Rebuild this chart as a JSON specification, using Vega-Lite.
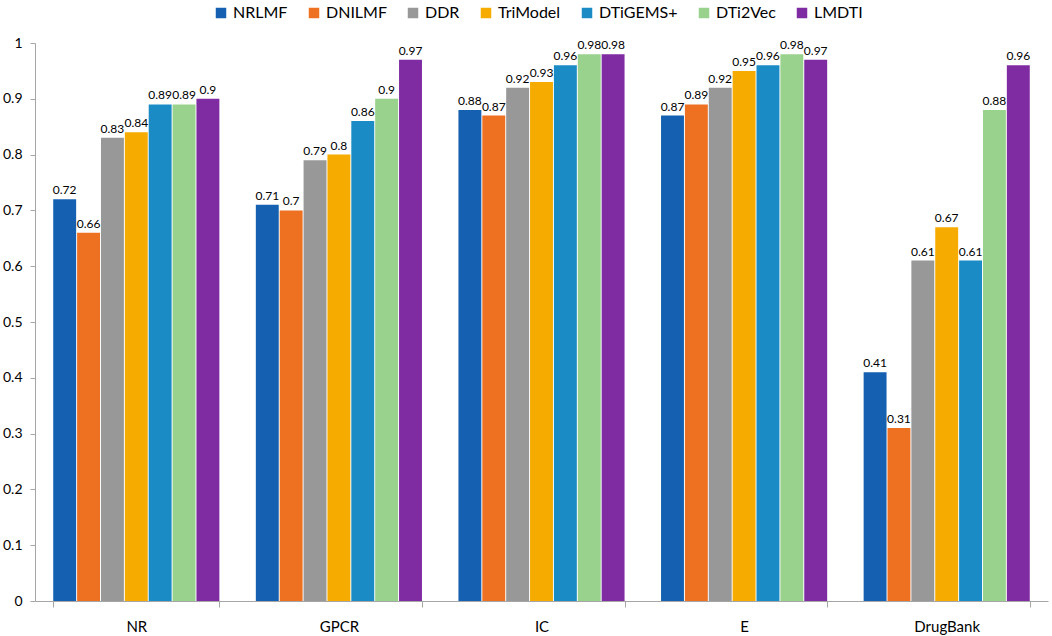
{
  "$schema": "https://vega.github.io/schema/vega-lite/v6.json",
  "width": 1052,
  "height": 636,
  "autosize": {"type": "fit", "contains": "padding"},
  "padding": {"left": 2, "right": 4, "top": 36, "bottom": 2},
  "background": "white",
  "config": {
    "view": {"stroke": null},
    "font": "Lato",
    "axis": {"grid": false, "domainColor": "#a6a6a6", "tickColor": "#a6a6a6", "labelColor": "#000", "labelFont": "Lato", "labelFontSize": 14}
  },
  "data": {"values": [
    {"dataset": "NR", "method": "NRLMF", "auc": 0.72},
    {"dataset": "NR", "method": "DNILMF", "auc": 0.66},
    {"dataset": "NR", "method": "DDR", "auc": 0.83},
    {"dataset": "NR", "method": "TriModel", "auc": 0.84},
    {"dataset": "NR", "method": "DTiGEMS+", "auc": 0.89},
    {"dataset": "NR", "method": "DTi2Vec", "auc": 0.89},
    {"dataset": "NR", "method": "LMDTI", "auc": 0.9},
    {"dataset": "GPCR", "method": "NRLMF", "auc": 0.71},
    {"dataset": "GPCR", "method": "DNILMF", "auc": 0.7},
    {"dataset": "GPCR", "method": "DDR", "auc": 0.79},
    {"dataset": "GPCR", "method": "TriModel", "auc": 0.8},
    {"dataset": "GPCR", "method": "DTiGEMS+", "auc": 0.86},
    {"dataset": "GPCR", "method": "DTi2Vec", "auc": 0.9},
    {"dataset": "GPCR", "method": "LMDTI", "auc": 0.97},
    {"dataset": "IC", "method": "NRLMF", "auc": 0.88},
    {"dataset": "IC", "method": "DNILMF", "auc": 0.87},
    {"dataset": "IC", "method": "DDR", "auc": 0.92},
    {"dataset": "IC", "method": "TriModel", "auc": 0.93},
    {"dataset": "IC", "method": "DTiGEMS+", "auc": 0.96},
    {"dataset": "IC", "method": "DTi2Vec", "auc": 0.98},
    {"dataset": "IC", "method": "LMDTI", "auc": 0.98},
    {"dataset": "E", "method": "NRLMF", "auc": 0.87},
    {"dataset": "E", "method": "DNILMF", "auc": 0.89},
    {"dataset": "E", "method": "DDR", "auc": 0.92},
    {"dataset": "E", "method": "TriModel", "auc": 0.95},
    {"dataset": "E", "method": "DTiGEMS+", "auc": 0.96},
    {"dataset": "E", "method": "DTi2Vec", "auc": 0.98},
    {"dataset": "E", "method": "LMDTI", "auc": 0.97},
    {"dataset": "DrugBank", "method": "NRLMF", "auc": 0.41},
    {"dataset": "DrugBank", "method": "DNILMF", "auc": 0.31},
    {"dataset": "DrugBank", "method": "DDR", "auc": 0.61},
    {"dataset": "DrugBank", "method": "TriModel", "auc": 0.67},
    {"dataset": "DrugBank", "method": "DTiGEMS+", "auc": 0.61},
    {"dataset": "DrugBank", "method": "DTi2Vec", "auc": 0.88},
    {"dataset": "DrugBank", "method": "LMDTI", "auc": 0.96}
  ]},
  "encoding": {
    "x": {
      "field": "dataset", "type": "nominal", "sort": null, "title": null,
      "scale": {"paddingInner": 0.18, "paddingOuter": 0.09},
      "axis": {"labelAngle": 0, "tickBand": "extent", "tickSize": 6, "labelPadding": 12, "labelFontSize": 15}
    },
    "xOffset": {
      "field": "method", "type": "nominal", "sort": null,
      "scale": {"paddingInner": 0.04}
    },
    "y": {
      "field": "auc", "type": "quantitative", "title": null,
      "scale": {"domain": [0, 1], "nice": false},
      "axis": {"values": [0, 0.1, 0.2, 0.3, 0.4, 0.5, 0.6, 0.7, 0.8, 0.9, 1], "format": ".1~f", "tickSize": 5, "labelPadding": 8}
    }
  },
  "layer": [
    {
      "mark": {"type": "bar"},
      "encoding": {
        "color": {
          "field": "method", "type": "nominal", "sort": null,
          "scale": {
            "domain": ["NRLMF", "DNILMF", "DDR", "TriModel", "DTiGEMS+", "DTi2Vec", "LMDTI"],
            "range": ["#1560B0", "#EE7122", "#989898", "#F6AB00", "#1A8BC4", "#99D28C", "#7F2BA2"]
          },
          "legend": {
            "title": null, "orient": "none", "direction": "horizontal",
            "legendX": 178, "legendY": -38,
            "symbolType": "square", "symbolSize": 110, "labelFontSize": 16,
            "labelFont": "Lato", "columnPadding": 18, "symbolStrokeWidth": 0
          }
        }
      }
    },
    {
      "mark": {"type": "text", "dy": -9, "fontSize": 12, "font": "Lato", "color": "#000"},
      "encoding": {"text": {"field": "auc", "type": "quantitative"}}
    }
  ]
}
